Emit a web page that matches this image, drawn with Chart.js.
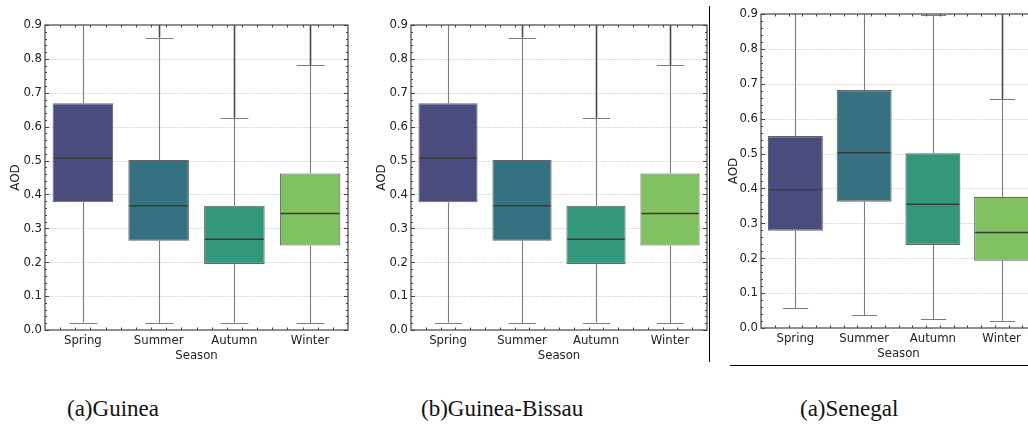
<!DOCTYPE html>
<html>
<head>
<meta charset="utf-8">
<script src="https://cdn.jsdelivr.net/npm/chart.js@4/dist/chart.umd.min.js"></script>
<style>
  html, body { margin:0; padding:0; background:#fff; width:1028px; height:424px; overflow:hidden; position:relative; }
  .panel { position:absolute; top:0; height:370px; }
  .cap { position:absolute; font-family:'Liberation Serif','Times New Roman',serif; font-size:23px; color:#111; white-space:nowrap; line-height:1; }
  .vline { position:absolute; left:709px; top:6px; width:1px; height:356px; background:#000; }
  .hline { position:absolute; left:730px; top:365px; width:298px; height:1px; background:#000; }
</style>
</head>
<body>
<div class="panel" style="left:0;width:360px"><canvas id="c1" width="360" height="370"></canvas></div>
<div class="panel" style="left:360px;width:360px"><canvas id="c2" width="360" height="370"></canvas></div>
<div class="panel" style="left:715px;width:335px"><canvas id="c3" width="335" height="370"></canvas></div>
<div class="vline"></div>
<div class="hline"></div>
<div class="cap" style="left:67px;top:397px">(a)Guinea</div>
<div class="cap" style="left:421px;top:397px">(b)Guinea-Bissau</div>
<div class="cap" style="left:800px;top:397px">(a)Senegal</div>
<script>
// ---- data ----
const categories = ['Spring', 'Summer', 'Autumn', 'Winter'];
const boxColors = ['#4a4c7e', '#367182', '#33977c', '#80c161'];

const guineaWhisLo = [0.022, 0.020, 0.022, 0.020];
const guineaQ1     = [0.377, 0.263, 0.195, 0.249];
const guineaMedian = [0.507, 0.367, 0.268, 0.344];
const guineaQ3     = [0.669, 0.502, 0.367, 0.462];
const guineaWhisHi = [1.000, 0.863, 0.626, 0.781];
const guineaOutMax = [null, 1.2, 1.2, 1.2];

const bissauWhisLo = [0.022, 0.020, 0.022, 0.020];
const bissauQ1     = [0.377, 0.263, 0.195, 0.249];
const bissauMedian = [0.507, 0.367, 0.268, 0.344];
const bissauQ3     = [0.669, 0.502, 0.367, 0.462];
const bissauWhisHi = [1.000, 0.863, 0.626, 0.781];
const bissauOutMax = [null, 1.2, 1.2, 1.2];

const senegalWhisLo = [0.056, 0.037, 0.026, 0.021];
const senegalQ1     = [0.279, 0.362, 0.238, 0.193];
const senegalMedian = [0.396, 0.502, 0.355, 0.274];
const senegalQ3     = [0.550, 0.682, 0.501, 0.376];
const senegalWhisHi = [1.000, 1.000, 0.896, 0.656];
const senegalOutMax = [null, null, null, 1.2];

const yMin = 0, yMax = 0.9, yStep = 0.1, yMinorStep = 0.02;

const tickFont = "'DejaVu Sans Condensed', 'Liberation Sans Narrow', 'DejaVu Sans', sans-serif";

// ---- plugin drawing box-plot extras through the library scales ----
const boxExtras = {
  id: 'boxExtras',
  beforeDatasetsDraw(chart) {
    const {ctx, chartArea: a, scales: {x, y}} = chart;
    const st = chart.options.plugins.boxExtras;
    ctx.save();
    // grid
    ctx.strokeStyle = '#c4c4c4';
    ctx.lineWidth = 0.8;
    ctx.setLineDash([1.2, 1.2]);
    for (let v = yMin + yStep; v < yMax - 1e-9; v += yStep) {
      const py = Math.round(y.getPixelForValue(v)) + 0.5;
      ctx.beginPath(); ctx.moveTo(a.left, py); ctx.lineTo(a.right, py); ctx.stroke();
    }
    ctx.setLineDash([]);
    ctx.beginPath(); ctx.rect(a.left, a.top, a.right - a.left, a.bottom - a.top); ctx.clip();
    const meta = chart.getDatasetMeta(0);
    meta.data.forEach((bar, i) => {
      const cx = Math.round(bar.x) + 0.5;
      const capHalf = bar.width * 0.23;
      // whiskers
      ctx.strokeStyle = '#7c7c7c';
      ctx.lineWidth = 1.1;
      ctx.beginPath();
      ctx.moveTo(cx, y.getPixelForValue(st.q1[i])); ctx.lineTo(cx, y.getPixelForValue(st.lo[i]));
      ctx.moveTo(cx, y.getPixelForValue(st.q3[i])); ctx.lineTo(cx, y.getPixelForValue(st.hi[i]));
      ctx.stroke();
      // caps
      ctx.beginPath();
      [st.lo[i], st.hi[i]].forEach(v => {
        const py = Math.round(y.getPixelForValue(v)) + 0.5;
        ctx.moveTo(cx - capHalf, py); ctx.lineTo(cx + capHalf, py);
      });
      ctx.stroke();
      // outliers (dense, drawn as a dark line)
      if (st.out[i] != null) {
        ctx.strokeStyle = '#4a4a4a';
        ctx.lineWidth = 1.6;
        ctx.beginPath();
        ctx.moveTo(cx, y.getPixelForValue(st.hi[i])); ctx.lineTo(cx, y.getPixelForValue(st.out[i]));
        ctx.stroke();
      }
    });
    ctx.restore();
  },
  afterDatasetsDraw(chart) {
    const {ctx, chartArea: a, scales: {x, y}} = chart;
    const st = chart.options.plugins.boxExtras;
    ctx.save();
    const meta = chart.getDatasetMeta(0);
    meta.data.forEach((bar, i) => {
      const py = y.getPixelForValue(st.med[i]);
      ctx.strokeStyle = '#3a3a3a';
      ctx.lineWidth = 1.5;
      ctx.beginPath();
      ctx.moveTo(bar.x - bar.width / 2 + 1, py); ctx.lineTo(bar.x + bar.width / 2 - 1, py);
      ctx.stroke();
    });
    // frame
    ctx.strokeStyle = '#444';
    ctx.lineWidth = 1.2;
    ctx.strokeRect(a.left, a.top, a.right - a.left, a.bottom - a.top);
    // inward ticks
    ctx.lineWidth = 1;
    ctx.beginPath();
    for (let k = 0; k * yMinorStep <= yMax + 1e-9; k++) {
      const v = k * yMinorStep;
      const major = (k % 5) === 0;
      const len = major ? 4 : 2;
      const py = Math.round(y.getPixelForValue(v)) + 0.5;
      ctx.moveTo(a.left, py); ctx.lineTo(a.left + len, py);
      ctx.moveTo(a.right, py); ctx.lineTo(a.right - len, py);
    }
    const n = categories.length;
    for (let k = 0; k <= n * 5; k++) {
      const v = -0.5 + k * 0.2;
      const px = Math.round(x.getPixelForValue(v)) + 0.5;
      if (px < a.left + 1 || px > a.right - 1) continue;
      const major = Math.abs(v - Math.round(v)) < 1e-6;
      const len = major ? 4 : 2.5;
      ctx.moveTo(px, a.bottom); ctx.lineTo(px, a.bottom - len);
      ctx.moveTo(px, a.top); ctx.lineTo(px, a.top + len);
    }
    ctx.stroke();
    ctx.restore();
  }
};

function makeChart(id, cfg) {
  const boxes = cfg.q1.map((v, i) => [v, cfg.q3[i]]);
  return new Chart(document.getElementById(id), {
    type: 'bar',
    data: {
      labels: categories,
      datasets: [{
        data: boxes,
        backgroundColor: boxColors,
        borderColor: '#666',
        borderWidth: 1.1,
        borderSkipped: false,
        categoryPercentage: 0.8,
        barPercentage: 1.0
      }]
    },
    options: {
      responsive: false,
      animation: false,
      events: [],
      layout: { padding: { top: cfg.top, right: cfg.padRight, left: 0, bottom: 0 } },
      plugins: {
        legend: { display: false },
        tooltip: { enabled: false },
        boxExtras: { lo: cfg.lo, q1: cfg.q1, med: cfg.med, q3: cfg.q3, hi: cfg.hi, out: cfg.out }
      },
      scales: {
        x: {
          type: 'category',
          grid: { display: false, drawTicks: false },
          border: { display: false },
          ticks: { font: { family: tickFont, size: 13 }, color: '#222', padding: 3, maxRotation: 0 },
          title: { display: true, text: 'Season', font: { family: tickFont, size: 13 }, color: '#222', padding: { top: 0, bottom: cfg.seasonPad } },
          afterFit: s => { s.height = cfg.xH; }
        },
        y: {
          min: yMin, max: yMax,
          grid: { display: false, drawTicks: false },
          border: { display: false },
          ticks: { stepSize: yStep, font: { family: tickFont, size: 13 }, color: '#222', padding: 3,
                   callback: v => Number(v).toFixed(1) },
          title: { display: true, text: 'AOD', font: { family: "'DejaVu Sans', sans-serif", size: 12 }, color: '#222', padding: { top: cfg.aodPad, bottom: 0 } },
          afterFit: s => { s.width = cfg.yW; }
        }
      }
    },
    plugins: [boxExtras]
  });
}

makeChart('c1', { lo: guineaWhisLo, q1: guineaQ1, med: guineaMedian, q3: guineaQ3, hi: guineaWhisHi, out: guineaOutMax,
  top: 25, padRight: 12, yW: 45, xH: 40, seasonPad: 7, aodPad: 9 });
makeChart('c2', { lo: bissauWhisLo, q1: bissauQ1, med: bissauMedian, q3: bissauQ3, hi: bissauWhisHi, out: bissauOutMax,
  top: 25, padRight: 13, yW: 51, xH: 40, seasonPad: 7, aodPad: 15 });
makeChart('c3', { lo: senegalWhisLo, q1: senegalQ1, med: senegalMedian, q3: senegalQ3, hi: senegalWhisHi, out: senegalOutMax,
  top: 14, padRight: 14, yW: 46, xH: 42, seasonPad: 9, aodPad: 12 });
</script>
</body>
</html>
